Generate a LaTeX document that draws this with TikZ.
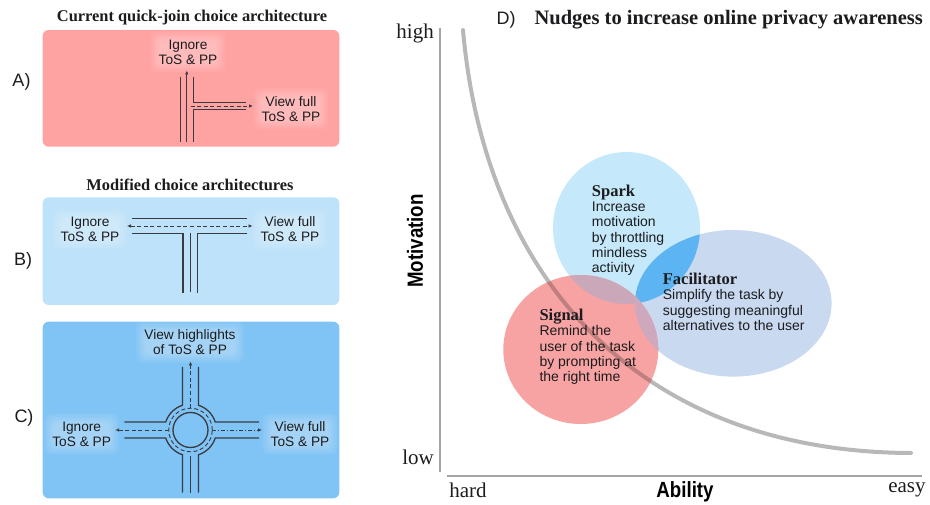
\documentclass[tikz,border=0pt]{standalone}
\usepackage{fontspec}
\setmainfont{Liberation Serif}
\setsansfont{Liberation Sans}
\usetikzlibrary{calc,arrows.meta}

\definecolor{panelA}{RGB}{255,162,162}
\definecolor{panelB}{RGB}{189,226,249}
\definecolor{panelC}{RGB}{128,196,245}
\definecolor{roadc}{RGB}{58,58,64}
\definecolor{axisc}{RGB}{165,165,168}
\definecolor{curvec}{RGB}{184,184,184}
\definecolor{sparkc}{RGB}{197,233,250}
\definecolor{facilc}{RGB}{200,217,240}
\definecolor{signalc}{RGB}{247,163,163}
\definecolor{sparkfacilc}{RGB}{92,180,242}
\definecolor{signalsparkc}{RGB}{203,168,185}
\definecolor{signalfacilc}{RGB}{206,168,188}
\definecolor{inkc}{RGB}{28,28,30}

\pgfdeclarelayer{bg}
\pgfdeclarelayer{halo}
\pgfsetlayers{bg,halo,main}

% label with a soft white halo behind it
\newcommand{\halolabel}[4]{%
  \node[#3] (#2) at (#1) {#4};%
  \begin{pgfonlayer}{halo}%
    \foreach \k in {0,...,6}{%
      \fill[white, fill opacity=0.05, rounded corners=7pt]
        ($(#2.south west)+(-1.5*\k+1,1.5*\k-1)$) rectangle ($(#2.north east)+(1.5*\k-1,-1.5*\k+1)$);
    }%
  \end{pgfonlayer}%
}

\begin{document}
\begin{tikzpicture}[x=1pt,y=-1pt,
  lbl/.style={font=\sffamily\fontsize{13.7}{15}\selectfont, align=center, inner sep=0pt, text=inkc},
  bubtxt/.style={font=\sffamily\fontsize{14}{15.3}\selectfont, align=left, inner sep=0pt, anchor=north west, text=inkc},
  tag/.style={font=\sffamily\fontsize{18}{20}\selectfont, inner sep=0pt, text=inkc},
  ttl/.style={font=\rmfamily\bfseries\fontsize{16.4}{18}\selectfont, inner sep=0pt, text=inkc},
  scalelbl/.style={font=\rmfamily\fontsize{21}{23}\selectfont, inner sep=0pt, text=inkc},
  axislbl/.style={font=\sffamily\bfseries\fontsize{22}{24}\selectfont, inner sep=0pt, text=black},
  panel/.style={rounded corners=6pt},
  road/.style={draw=roadc, line width=1.3pt},
  lane/.style={draw=roadc, line width=0.9pt, dash pattern=on 4pt off 2.6pt},
  tip/.style={-{Latex[length=4pt,width=3.6pt]}},
  curve/.style={draw=curvec, line width=4pt, line cap=round},
  axis/.style={draw=axisc, line width=1.8pt}
]
\newcommand{\bubtitle}[1]{{\rmfamily\bfseries\fontsize{16.5}{17}\selectfont #1}}
\useasboundingbox (0,0) rectangle (930,505);

% ---------------- left column: choice architectures ----------------
\node[ttl] (titleA) at (192,18) {Current quick-join choice architecture};
\node[ttl] (titleB) at (190,185) {Modified choice architectures};

\begin{pgfonlayer}{bg}
\fill[panelA, panel] (42.7,30) rectangle (339.3,146.7);
\fill[panelB, panel] (42.7,197.3) rectangle (339.3,305);
\fill[panelC, panel] (42.7,321.7) rectangle (339.3,498.3);

% A) road with a side exit to the right
\draw[road] (180.7,76.7) -- (180.7,141.7);
\draw[road] (193.3,76.7) -- (193.3,102.7) -- (246,102.7);
\draw[road] (246,109.3) -- (193.3,109.3) -- (193.3,141.7);
\draw[roadc, line width=0.9pt, tip] (186.8,141.7) -- (186.8,70.5);
\draw[lane, tip] (190.5,106) -- (253,106);

% B) T-junction
\draw[road] (132.3,218.7) -- (247.3,218.7);
\draw[lane, {Latex[length=4pt,width=3.6pt]}-{Latex[length=4pt,width=3.6pt]}] (127,226) -- (252.5,226);
\draw[road] (132.3,233.3) -- (183,233.3) -- (183,292.7);
\draw[road] (247.3,233.3) -- (197.7,233.3) -- (197.7,292.7);
\draw[road] (190.3,233.3) -- (190.3,292.2);

% C) roundabout
\begin{scope}[shift={(190.5,430)}, yscale=-1]
  \draw[road] (8,63) -- (8,24.74) arc[start angle=72.1, end angle=17.9, radius=26] -- (68.5,8);
  \draw[road] (-8,63) -- (-8,24.74) arc[start angle=107.9, end angle=162.1, radius=26] -- (-66.2,8);
  \draw[road] (-8,-62.7) -- (-8,-24.74) arc[start angle=252.1, end angle=197.9, radius=26] -- (-66.2,-8);
  \draw[road] (8,-62.7) -- (8,-24.74) arc[start angle=287.9, end angle=342.1, radius=26] -- (68.5,-8);
  \draw[road] (0,0) circle[radius=17.5];
  \draw[lane] (0,0) circle[radius=21.8];
  \draw[road] (0,-26) -- (0,-62.7);
  \draw[lane, tip] (0,21.8) -- (0,68.5);
  \draw[lane, tip] (-21.8,0) -- (-75.5,0);
  \draw[roadc, line width=0.9pt, dash pattern=on 4pt off 2pt on 1pt off 2pt, tip] (21.8,0) -- (71.5,0);
\end{scope}
\end{pgfonlayer}

\node[tag] (tagA) at (21.5,81.5) {A)};
\node[tag] (tagB) at (23,261) {B)};
\node[tag] (tagC) at (24,418) {C)};

\halolabel{188,52}{aIgnore}{lbl}{Ignore\\ToS \& PP}
\halolabel{291,108.7}{aView}{lbl}{View full\\ToS \& PP}
\halolabel{90,229.5}{bIgnore}{lbl}{Ignore\\ToS \& PP}
\halolabel{290,229.5}{bView}{lbl}{View full\\ToS \& PP}
\halolabel{190,342.5}{cHigh}{lbl}{View highlights\\of ToS \& PP}
\halolabel{81.7,434}{cIgnore}{lbl}{Ignore\\ToS \& PP}
\halolabel{300,434}{cView}{lbl}{View full\\ToS \& PP}

% ---------------- right column: motivation / ability chart ----------------
\node[tag] (tagD) at (506,20) {D)};
\node[ttl, font=\rmfamily\bfseries\fontsize{20.5}{22}\selectfont, anchor=east] (titleD) at (923,20) {Nudges to increase online privacy awareness};

\node[scalelbl, anchor=east] (high) at (434,33) {high};
\node[scalelbl, anchor=east] (low) at (434,457) {low};
\node[scalelbl] (hard) at (468,490) {hard};
\node[scalelbl] (easy) at (907,490) {easy};
\node[axislbl] (ability) at (685,492) {\scalebox{0.85}[1]{Ability}};
\node[axislbl, rotate=90] (motivation) at (415,241) {\scalebox{0.85}[1]{Motivation}};

\begin{pgfonlayer}{bg}
\draw[axis] (440,28) -- (440,472);
\draw[axis] (447,476) -- (922,476);

% behaviour threshold
\draw[curve] (463,30) .. controls (485,280) and (640,452) .. (911,453);

% the three nudge regions
\fill[sparkc] (626.5,228) ellipse[x radius=73.5, y radius=76];
\fill[facilc] (733.3,303.3) ellipse[x radius=98.3, y radius=73.3];
\begin{scope}
  \clip (626.5,228) ellipse[x radius=73.5, y radius=76];
  \fill[sparkfacilc] (733.3,303.3) ellipse[x radius=98.3, y radius=73.3];
\end{scope}
\fill[signalc] (580.8,349.5) ellipse[x radius=77.5, y radius=74.5];
\begin{scope}
  \clip (580.8,349.5) ellipse[x radius=77.5, y radius=74.5];
  \fill[signalsparkc] (626.5,228) ellipse[x radius=73.5, y radius=76];
  \fill[signalfacilc] (733.3,303.3) ellipse[x radius=98.3, y radius=73.3];
  \draw[curve, draw=black, opacity=0.22] (463,30) .. controls (485,280) and (640,452) .. (911,453);
\end{scope}
\end{pgfonlayer}

\node[bubtxt] (spark) at (591.7,184.7) {\bubtitle{Spark}\\Increase\\motivation\\by throttling\\mindless\\activity};
\node[bubtxt] (facilitator) at (662.7,273) {\bubtitle{Facilitator}\\Simplify the task by\\suggesting meaningful\\alternatives to the user};
\node[bubtxt] (signal) at (539.3,309) {\bubtitle{Signal}\\Remind the\\user of the task\\by prompting at\\the right time};
\end{tikzpicture}
\end{document}
